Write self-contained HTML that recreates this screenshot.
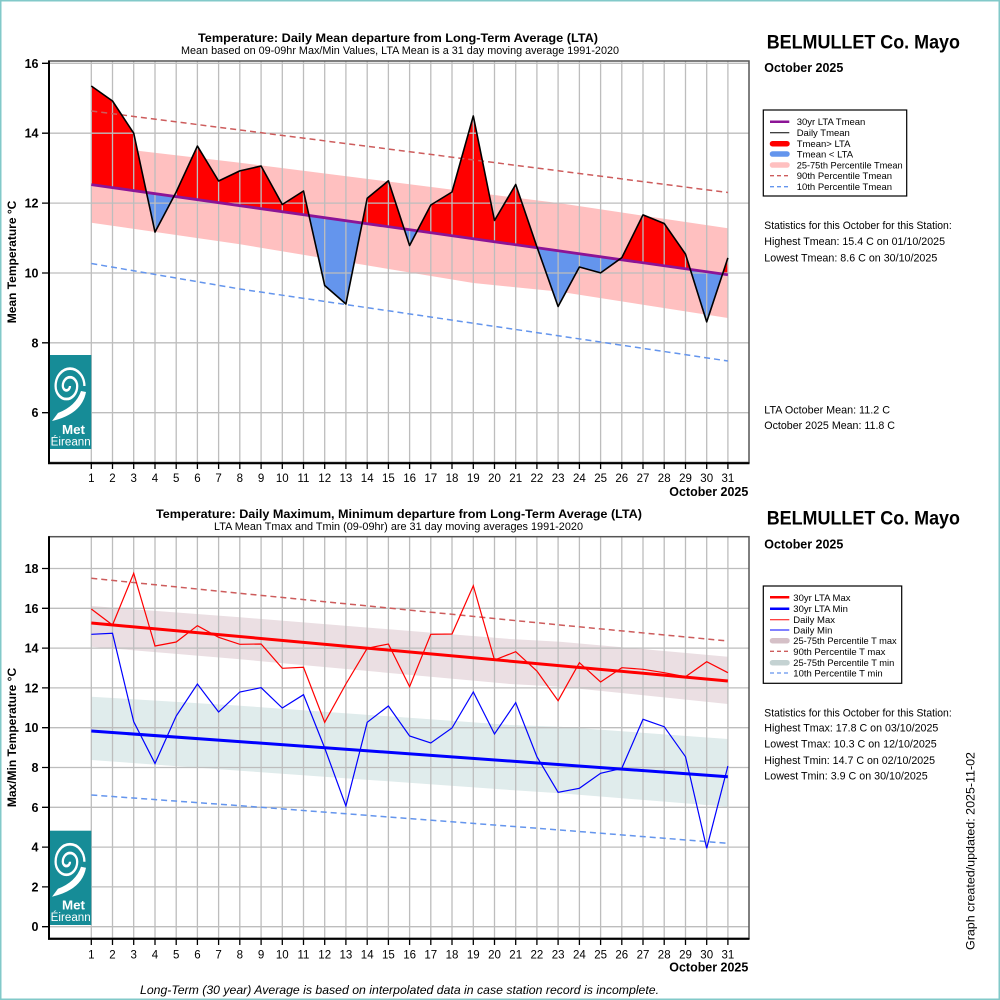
<!DOCTYPE html>
<html><head><meta charset="utf-8"><style>html,body{margin:0;padding:0;background:#fff}svg{display:block}</style></head>
<body>
<svg xmlns="http://www.w3.org/2000/svg" width="1000" height="1000" viewBox="0 0 1000 1000" font-family="'Liberation Sans', Arial, sans-serif">
<defs>
<clipPath id="above"><polygon points="91.3,0 727.9,0 727.9,274.8 91.3,184.6"/></clipPath>
<clipPath id="below"><polygon points="91.3,184.6 727.9,274.8 727.9,470 91.3,470"/></clipPath>
</defs>
<rect x="0" y="0" width="1000" height="1000" fill="#fff"/>

<!-- ================= TOP CHART ================= -->
<polygon points="91.3,145.3 240,162.7 560,203.3 727.9,228.3 727.9,318 560,291.7 473.3,283 346.7,262 240,244.3 91.3,222.7" fill="#ffc0c0"/>
<g>
<polygon clip-path="url(#above)" fill="#ff0000" points="91.3,86 112.5,101 133.7,133.2 155,232.1 176.2,192 197.4,146.1 218.6,181 239.8,170.9 261.1,166 282.3,204.5 303.5,191 324.7,285.5 345.9,304 367.2,198.3 388.4,180.8 409.6,245.5 430.8,205 452,192 473.3,116 494.5,220.5 515.7,184.5 536.9,246.7 558.1,306.5 579.4,267 600.6,272.9 621.8,257.7 643,214.9 664.2,223.5 685.5,254.1 706.7,321.9 727.9,257.9 727.9,274.8 91.3,184.6"/>
<polygon clip-path="url(#below)" fill="#6495ed" points="91.3,86 112.5,101 133.7,133.2 155,232.1 176.2,192 197.4,146.1 218.6,181 239.8,170.9 261.1,166 282.3,204.5 303.5,191 324.7,285.5 345.9,304 367.2,198.3 388.4,180.8 409.6,245.5 430.8,205 452,192 473.3,116 494.5,220.5 515.7,184.5 536.9,246.7 558.1,306.5 579.4,267 600.6,272.9 621.8,257.7 643,214.9 664.2,223.5 685.5,254.1 706.7,321.9 727.9,257.9 727.9,274.8 91.3,184.6"/>
</g>
<g stroke="#bdbdbd" stroke-width="1.3" fill="none">
<path d="M91.3 61V462M112.5 61V462M133.7 61V462M155 61V462M176.2 61V462M197.4 61V462M218.6 61V462M239.8 61V462M261.1 61V462M282.3 61V462M303.5 61V462M324.7 61V462M345.9 61V462M367.2 61V462M388.4 61V462M409.6 61V462M430.8 61V462M452 61V462M473.3 61V462M494.5 61V462M515.7 61V462M536.9 61V462M558.1 61V462M579.4 61V462M600.6 61V462M621.8 61V462M643 61V462M664.2 61V462M685.5 61V462M706.7 61V462M727.9 61V462"/>
<path d="M49 63.3H749M49 133.2H749M49 203.1H749M49 273H749M49 342.8H749M49 412.7H749"/>
</g>
<polyline points="91.3,111 240,130 560,171 727.9,192.5" fill="none" stroke="#cd5c5c" stroke-width="1.5" stroke-dasharray="6,4"/>
<polyline points="91.3,263.5 240,289 560,336 727.9,361" fill="none" stroke="#6495ed" stroke-width="1.5" stroke-dasharray="6,4"/>
<line x1="91.3" y1="184.6" x2="727.9" y2="274.8" stroke="#8c1496" stroke-width="2.8"/>
<polyline fill="none" stroke="#000" stroke-width="1.6" stroke-linejoin="round" points="91.3,86 112.5,101 133.7,133.2 155,232.1 176.2,192 197.4,146.1 218.6,181 239.8,170.9 261.1,166 282.3,204.5 303.5,191 324.7,285.5 345.9,304 367.2,198.3 388.4,180.8 409.6,245.5 430.8,205 452,192 473.3,116 494.5,220.5 515.7,184.5 536.9,246.7 558.1,306.5 579.4,267 600.6,272.9 621.8,257.7 643,214.9 664.2,223.5 685.5,254.1 706.7,321.9 727.9,257.9"/>

<!-- logo top -->
<g>
<rect x="49" y="355" width="42.3" height="94" fill="#168c97"/>
<g transform="translate(70,386) scale(1.2,1.45) translate(-70,-386)">
<path d="M70,386 A3,3 0 0,1 64,386 A6,6 0 0,1 76,386 A9,9 0 0,1 58,386 A12,12 0 0,1 82,386" fill="none" stroke="#fff" stroke-width="1.9"/>
</g>
<path d="M86,392 Q82,414 52,421 L58,413 Q76,406 81,391 Z" fill="#fff"/>
<text x="62" y="434" font-size="13" font-weight="bold" fill="#fff" textLength="23" lengthAdjust="spacingAndGlyphs">Met</text>
<text x="50.7" y="445.3" font-size="11.5" fill="#fff" textLength="40" lengthAdjust="spacingAndGlyphs">Éireann</text>
</g>

<rect x="49" y="61" width="700" height="401.5" fill="none" stroke="#555" stroke-width="1.5"/>
<path d="M49 60.5V463.2H749.5" fill="none" stroke="#000" stroke-width="2"/>
<path d="M91.3 462V469M112.5 462V469M133.7 462V469M155 462V469M176.2 462V469M197.4 462V469M218.6 462V469M239.8 462V469M261.1 462V469M282.3 462V469M303.5 462V469M324.7 462V469M345.9 462V469M367.2 462V469M388.4 462V469M409.6 462V469M430.8 462V469M452 462V469M473.3 462V469M494.5 462V469M515.7 462V469M536.9 462V469M558.1 462V469M579.4 462V469M600.6 462V469M621.8 462V469M643 462V469M664.2 462V469M685.5 462V469M706.7 462V469M727.9 462V469" stroke="#000" stroke-width="1.3"/>
<path d="M42 63.3H49M42 133.2H49M42 203.1H49M42 273H49M42 342.8H49M42 412.7H49" stroke="#000" stroke-width="1.3"/>
<g font-size="12.5" font-weight="bold" text-anchor="end" fill="#000">
<text x="38.5" y="67.8">16</text>
<text x="38.5" y="137.7">14</text>
<text x="38.5" y="207.6">12</text>
<text x="38.5" y="277.5">10</text>
<text x="38.5" y="347.3">8</text>
<text x="38.5" y="417.2">6</text>
</g>
<g font-size="11.5" text-anchor="middle" fill="#000">
<text x="91.3" y="482">1</text><text x="112.5" y="482">2</text><text x="133.7" y="482">3</text><text x="155" y="482">4</text><text x="176.2" y="482">5</text><text x="197.4" y="482">6</text><text x="218.6" y="482">7</text><text x="239.8" y="482">8</text><text x="261.1" y="482">9</text><text x="282.3" y="482">10</text><text x="303.5" y="482">11</text><text x="324.7" y="482">12</text><text x="345.9" y="482">13</text><text x="367.2" y="482">14</text><text x="388.4" y="482">15</text><text x="409.6" y="482">16</text><text x="430.8" y="482">17</text><text x="452" y="482">18</text><text x="473.3" y="482">19</text><text x="494.5" y="482">20</text><text x="515.7" y="482">21</text><text x="536.9" y="482">22</text><text x="558.1" y="482">23</text><text x="579.4" y="482">24</text><text x="600.6" y="482">25</text><text x="621.8" y="482">26</text><text x="643" y="482">27</text><text x="664.2" y="482">28</text><text x="685.5" y="482">29</text><text x="706.7" y="482">30</text><text x="727.9" y="482">31</text>
</g>
<text x="748.3" y="496" font-size="13" font-weight="bold" text-anchor="end" textLength="79" lengthAdjust="spacingAndGlyphs">October 2025</text>
<text transform="translate(16,262) rotate(-90)" font-size="12" font-weight="bold" text-anchor="middle">Mean Temperature °C</text>
<text x="398" y="42" font-size="12" font-weight="bold" text-anchor="middle" textLength="400" lengthAdjust="spacingAndGlyphs">Temperature: Daily Mean departure from Long-Term Average (LTA)</text>
<text x="400" y="54" font-size="11" text-anchor="middle" textLength="438" lengthAdjust="spacingAndGlyphs">Mean based on 09-09hr Max/Min Values, LTA Mean is a 31 day moving average 1991-2020</text>

<text x="766.7" y="48.3" font-size="19.5" font-weight="bold" textLength="193.3" lengthAdjust="spacingAndGlyphs">BELMULLET Co. Mayo</text>
<text x="764.3" y="72" font-size="13" font-weight="bold" textLength="79" lengthAdjust="spacingAndGlyphs">October 2025</text>
<rect x="763.3" y="110" width="143.4" height="86" fill="none" stroke="#000" stroke-width="1.2"/>
<line x1="770" y1="121.7" x2="789.3" y2="121.7" stroke="#8c1496" stroke-width="2.5"/>
<line x1="770" y1="132.7" x2="789.3" y2="132.7" stroke="#000" stroke-width="1"/>
<line x1="772.5" y1="143.7" x2="787" y2="143.7" stroke="#ff0000" stroke-width="5.5" stroke-linecap="round"/>
<line x1="772.5" y1="154" x2="787" y2="154" stroke="#6495ed" stroke-width="5.5" stroke-linecap="round"/>
<line x1="772.5" y1="165" x2="787" y2="165" stroke="#ffc0c0" stroke-width="5.5" stroke-linecap="round"/>
<line x1="770" y1="175.7" x2="789.3" y2="175.7" stroke="#cd5c5c" stroke-width="1.3" stroke-dasharray="4,3"/>
<line x1="770" y1="186.7" x2="789.3" y2="186.7" stroke="#6495ed" stroke-width="1.3" stroke-dasharray="4,3"/>
<g font-size="9.5" fill="#000">
<text x="796.7" y="125.2">30yr LTA Tmean</text>
<text x="796.7" y="136.2">Daily Tmean</text>
<text x="796.7" y="147.2">Tmean&gt; LTA</text>
<text x="796.7" y="157.5">Tmean &lt; LTA</text>
<text x="796.7" y="168.5" textLength="106" lengthAdjust="spacingAndGlyphs">25-75th Percentile Tmean</text>
<text x="796.7" y="179.2">90th Percentile Tmean</text>
<text x="796.7" y="190.2">10th Percentile Tmean</text>
</g>
<g font-size="11" fill="#000">
<text x="764.3" y="229" textLength="187.4" lengthAdjust="spacingAndGlyphs">Statistics for this October for this Station:</text>
<text x="764.3" y="245" textLength="180.7" lengthAdjust="spacingAndGlyphs">Highest Tmean: 15.4 C on 01/10/2025</text>
<text x="764.3" y="261.3" textLength="173" lengthAdjust="spacingAndGlyphs">Lowest Tmean: 8.6 C on 30/10/2025</text>
<text x="764.3" y="413.3" textLength="125.7" lengthAdjust="spacingAndGlyphs">LTA October Mean: 11.2 C</text>
<text x="764.3" y="429" textLength="130.7" lengthAdjust="spacingAndGlyphs">October 2025 Mean: 11.8 C</text>
</g>

<!-- ================= BOTTOM CHART ================= -->
<polygon points="91.3,606 240,617.3 510,639 560,641.7 727.9,656.7 727.9,704 560,686.7 510,684 240,659.3 91.3,646.7" fill="#ebdfe3"/>
<polygon points="91.3,696.7 240,705.7 510,725 560,726.7 727.9,739 727.9,806.7 560,793.3 510,790 240,770.7 91.3,760" fill="#e0ecec"/>
<g stroke="#bdbdbd" stroke-width="1.3" fill="none">
<path transform="translate(0,475.7)" d="M91.3 61V462M112.5 61V462M133.7 61V462M155 61V462M176.2 61V462M197.4 61V462M218.6 61V462M239.8 61V462M261.1 61V462M282.3 61V462M303.5 61V462M324.7 61V462M345.9 61V462M367.2 61V462M388.4 61V462M409.6 61V462M430.8 61V462M452 61V462M473.3 61V462M494.5 61V462M515.7 61V462M536.9 61V462M558.1 61V462M579.4 61V462M600.6 61V462M621.8 61V462M643 61V462M664.2 61V462M685.5 61V462M706.7 61V462M727.9 61V462"/>
<path d="M49 568.5H749M49 608.3H749M49 648.1H749M49 687.9H749M49 727.7H749M49 767.5H749M49 807.3H749M49 847.1H749M49 886.9H749M49 926.7H749"/>
</g>
<polyline points="91.3,578.3 240,593.3 560,625 727.9,641" fill="none" stroke="#cd5c5c" stroke-width="1.5" stroke-dasharray="6,4"/>
<polyline points="91.3,795 240,805.7 560,830 727.9,843.3" fill="none" stroke="#6495ed" stroke-width="1.5" stroke-dasharray="6,4"/>
<line x1="91.3" y1="623" x2="727.9" y2="681" stroke="#ff0000" stroke-width="3"/>
<line x1="91.3" y1="731" x2="727.9" y2="776.7" stroke="#0000ff" stroke-width="3"/>
<polyline fill="none" stroke="#ff0000" stroke-width="1.2" points="91.3,609 112.5,625 133.7,573.3 155,646 176.2,642 197.4,625.7 218.6,637.3 239.8,644.3 261.1,644 282.3,668.3 303.5,667.3 324.7,722.3 345.9,684 367.2,648.3 388.4,644 409.6,686.7 430.8,634.3 452,634 473.3,585.7 494.5,660 515.7,651.7 536.9,671 558.1,700.7 579.4,662.7 600.6,682 621.8,667.7 643,669.3 664.2,672.7 685.5,676.7 706.7,661.7 727.9,672.7"/>
<polyline fill="none" stroke="#0000ff" stroke-width="1.2" points="91.3,634.3 112.5,633.3 133.7,721.7 155,763.5 176.2,716 197.4,684 218.6,712 239.8,692 261.1,687.7 282.3,708 303.5,694.7 324.7,748 345.9,806 367.2,722.3 388.4,706 409.6,736 430.8,743 452,728 473.3,692 494.5,734 515.7,702.7 536.9,756.7 558.1,792.3 579.4,788.3 600.6,773.3 621.8,768.3 643,719.3 664.2,726.7 685.5,756.7 706.7,848.3 727.9,766"/>

<!-- logo bottom -->
<g transform="translate(0,475.7)">
<rect x="49" y="355" width="42.3" height="94.3" fill="#168c97"/>
<g transform="translate(70,386) scale(1.2,1.45) translate(-70,-386)">
<path d="M70,386 A3,3 0 0,1 64,386 A6,6 0 0,1 76,386 A9,9 0 0,1 58,386 A12,12 0 0,1 82,386" fill="none" stroke="#fff" stroke-width="1.9"/>
</g>
<path d="M86,392 Q82,414 52,421 L58,413 Q76,406 81,391 Z" fill="#fff"/>
<text x="62" y="434" font-size="13" font-weight="bold" fill="#fff" textLength="23" lengthAdjust="spacingAndGlyphs">Met</text>
<text x="50.7" y="445.3" font-size="11.5" fill="#fff" textLength="40" lengthAdjust="spacingAndGlyphs">Éireann</text>
</g>

<rect x="49" y="536.7" width="700" height="401.6" fill="none" stroke="#555" stroke-width="1.5"/>
<path d="M49 536.2V938.9H749.5" fill="none" stroke="#000" stroke-width="2"/>
<path transform="translate(0,476)" d="M91.3 462V469M112.5 462V469M133.7 462V469M155 462V469M176.2 462V469M197.4 462V469M218.6 462V469M239.8 462V469M261.1 462V469M282.3 462V469M303.5 462V469M324.7 462V469M345.9 462V469M367.2 462V469M388.4 462V469M409.6 462V469M430.8 462V469M452 462V469M473.3 462V469M494.5 462V469M515.7 462V469M536.9 462V469M558.1 462V469M579.4 462V469M600.6 462V469M621.8 462V469M643 462V469M664.2 462V469M685.5 462V469M706.7 462V469M727.9 462V469" stroke="#000" stroke-width="1.3"/>
<path d="M42 568.5H49M42 608.3H49M42 648.1H49M42 687.9H49M42 727.7H49M42 767.5H49M42 807.3H49M42 847.1H49M42 886.9H49M42 926.7H49" stroke="#000" stroke-width="1.3"/>
<g font-size="12.5" font-weight="bold" text-anchor="end" fill="#000">
<text x="38.5" y="573">18</text>
<text x="38.5" y="612.8">16</text>
<text x="38.5" y="652.6">14</text>
<text x="38.5" y="692.4">12</text>
<text x="38.5" y="732.2">10</text>
<text x="38.5" y="772">8</text>
<text x="38.5" y="811.8">6</text>
<text x="38.5" y="851.6">4</text>
<text x="38.5" y="891.4">2</text>
<text x="38.5" y="931.2">0</text>
</g>
<g font-size="11.5" text-anchor="middle" fill="#000">
<text x="91.3" y="958.3">1</text><text x="112.5" y="958.3">2</text><text x="133.7" y="958.3">3</text><text x="155" y="958.3">4</text><text x="176.2" y="958.3">5</text><text x="197.4" y="958.3">6</text><text x="218.6" y="958.3">7</text><text x="239.8" y="958.3">8</text><text x="261.1" y="958.3">9</text><text x="282.3" y="958.3">10</text><text x="303.5" y="958.3">11</text><text x="324.7" y="958.3">12</text><text x="345.9" y="958.3">13</text><text x="367.2" y="958.3">14</text><text x="388.4" y="958.3">15</text><text x="409.6" y="958.3">16</text><text x="430.8" y="958.3">17</text><text x="452" y="958.3">18</text><text x="473.3" y="958.3">19</text><text x="494.5" y="958.3">20</text><text x="515.7" y="958.3">21</text><text x="536.9" y="958.3">22</text><text x="558.1" y="958.3">23</text><text x="579.4" y="958.3">24</text><text x="600.6" y="958.3">25</text><text x="621.8" y="958.3">26</text><text x="643" y="958.3">27</text><text x="664.2" y="958.3">28</text><text x="685.5" y="958.3">29</text><text x="706.7" y="958.3">30</text><text x="727.9" y="958.3">31</text>
</g>
<text x="748.3" y="971.7" font-size="13" font-weight="bold" text-anchor="end" textLength="79" lengthAdjust="spacingAndGlyphs">October 2025</text>
<text transform="translate(16,737.5) rotate(-90)" font-size="12" font-weight="bold" text-anchor="middle">Max/Min Temperature °C</text>
<text x="399" y="518" font-size="12" font-weight="bold" text-anchor="middle" textLength="486" lengthAdjust="spacingAndGlyphs">Temperature: Daily Maximum, Minimum departure from Long-Term Average (LTA)</text>
<text x="398.5" y="530" font-size="11" text-anchor="middle" textLength="369" lengthAdjust="spacingAndGlyphs">LTA Mean Tmax and Tmin (09-09hr) are 31 day moving averages 1991-2020</text>

<text x="766.7" y="524.3" font-size="19.5" font-weight="bold" textLength="193.3" lengthAdjust="spacingAndGlyphs">BELMULLET Co. Mayo</text>
<text x="764.3" y="548.3" font-size="13" font-weight="bold" textLength="79" lengthAdjust="spacingAndGlyphs">October 2025</text>
<rect x="763.3" y="586" width="138.4" height="97.3" fill="none" stroke="#000" stroke-width="1.2"/>
<line x1="770" y1="597.3" x2="789.3" y2="597.3" stroke="#ff0000" stroke-width="2.5"/>
<line x1="770" y1="608.7" x2="789.3" y2="608.7" stroke="#0000ff" stroke-width="2.5"/>
<line x1="770" y1="619.7" x2="789.3" y2="619.7" stroke="#ff0000" stroke-width="1"/>
<line x1="770" y1="630" x2="789.3" y2="630" stroke="#0000ff" stroke-width="1"/>
<line x1="772.5" y1="640.7" x2="787" y2="640.7" stroke="#d5c0c7" stroke-width="5.5" stroke-linecap="round"/>
<line x1="770" y1="651.3" x2="789.3" y2="651.3" stroke="#cd5c5c" stroke-width="1.3" stroke-dasharray="4,3"/>
<line x1="772.5" y1="662.7" x2="787" y2="662.7" stroke="#c4d2d2" stroke-width="5.5" stroke-linecap="round"/>
<line x1="770" y1="673" x2="789.3" y2="673" stroke="#6495ed" stroke-width="1.3" stroke-dasharray="4,3"/>
<g font-size="9.5" fill="#000">
<text x="793.3" y="600.8">30yr LTA Max</text>
<text x="793.3" y="612.2">30yr LTA Min</text>
<text x="793.3" y="623.2">Daily Max</text>
<text x="793.3" y="633.5">Daily Min</text>
<text x="793.3" y="644.2" textLength="103.4" lengthAdjust="spacingAndGlyphs">25-75th Percentile T max</text>
<text x="793.3" y="654.8">90th Percentile T max</text>
<text x="793.3" y="666.2" textLength="101" lengthAdjust="spacingAndGlyphs">25-75th Percentile T min</text>
<text x="793.3" y="676.5">10th Percentile T min</text>
</g>
<g font-size="11" fill="#000">
<text x="764.3" y="716.3" textLength="187.4" lengthAdjust="spacingAndGlyphs">Statistics for this October for this Station:</text>
<text x="764.3" y="731.7" textLength="174" lengthAdjust="spacingAndGlyphs">Highest Tmax: 17.8 C on 03/10/2025</text>
<text x="764.3" y="747.7" textLength="172.4" lengthAdjust="spacingAndGlyphs">Lowest Tmax: 10.3 C on 12/10/2025</text>
<text x="764.3" y="764" textLength="170.7" lengthAdjust="spacingAndGlyphs">Highest Tmin: 14.7 C on 02/10/2025</text>
<text x="764.3" y="779.7" textLength="163.4" lengthAdjust="spacingAndGlyphs">Lowest Tmin: 3.9 C on 30/10/2025</text>
</g>
<text transform="translate(974.5,950) rotate(-90)" font-size="12" textLength="198" lengthAdjust="spacingAndGlyphs">Graph created/updated:  2025-11-02</text>

<text x="140" y="994" font-size="12" font-style="italic" textLength="519" lengthAdjust="spacingAndGlyphs">Long-Term (30 year) Average is based on interpolated data in case station record is incomplete.</text>

<rect x="0.75" y="0.75" width="998.5" height="998.5" fill="none" stroke="#82c9c9" stroke-width="1.5"/>
</svg>
</body></html>
